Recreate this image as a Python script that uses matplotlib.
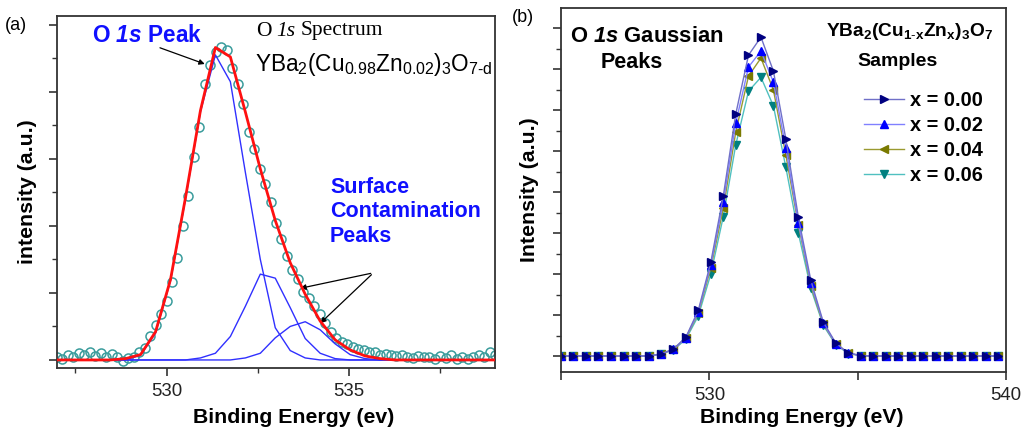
import numpy as np
import matplotlib
matplotlib.use("Agg")
import matplotlib.pyplot as plt
from matplotlib.lines import Line2D

plt.rcParams['font.family'] = ['Liberation Sans', 'DejaVu Sans']
plt.rcParams['mathtext.fontset'] = 'custom'
plt.rcParams['mathtext.rm'] = 'Liberation Sans'
plt.rcParams['mathtext.it'] = 'Liberation Sans:italic'
plt.rcParams['mathtext.bf'] = 'Liberation Sans:bold'
plt.rcParams['mathtext.bfit'] = 'Liberation Sans:italic:bold'
plt.rcParams['mathtext.default'] = 'regular'

# ---- panel (a): measured O 1s spectrum ----
exp_e = [527.00, 527.15, 527.30, 527.45, 527.60, 527.75, 527.90, 528.05, 528.20, 528.35,
         528.50, 528.65, 528.80, 528.95, 529.10, 529.25, 529.40, 529.55, 529.70, 529.85,
         530.00, 530.15, 530.30, 530.45, 530.60, 530.75, 530.90, 531.05, 531.20, 531.35,
         531.50, 531.65, 531.80, 531.95, 532.10, 532.25, 532.40, 532.55, 532.70, 532.85,
         533.00, 533.15, 533.30, 533.45, 533.60, 533.75, 533.90, 534.05, 534.20, 534.35,
         534.50, 534.65, 534.80, 534.95, 535.10, 535.25, 535.40, 535.55, 535.70, 535.85,
         536.00, 536.15, 536.30, 536.45, 536.60, 536.75, 536.90, 537.05, 537.20, 537.35,
         537.50, 537.65, 537.80, 537.95, 538.10, 538.25, 538.40, 538.55, 538.70, 538.85,
         539.00]
exp_i = [0.05, 0.02, 0.08, 0.05, 0.10, 0.07, 0.12, 0.06, 0.10, 0.04,
         0.09, 0.05, -0.02, 0.03, 0.05, 0.12, 0.18, 0.35, 0.52, 0.68,
         0.88, 1.16, 1.52, 2.00, 2.45, 3.02, 3.48, 4.12, 4.40, 4.60,
         4.67, 4.63, 4.36, 4.12, 3.82, 3.40, 3.15, 2.85, 2.62, 2.35,
         2.04, 1.80, 1.55, 1.34, 1.20, 1.02, 0.92, 0.80, 0.68, 0.55,
         0.42, 0.32, 0.27, 0.24, 0.20, 0.17, 0.15, 0.12, 0.12, 0.08,
         0.09, 0.07, 0.06, 0.08, 0.05, 0.03, 0.06, 0.04, 0.05, 0.02,
         0.06, 0.03, 0.07, 0.02, 0.05, 0.01, 0.04, 0.08, 0.05, 0.12,
         0.07]

# fit grid and components
fit_e = [526.83, 527.24, 527.65, 528.06, 528.47, 528.88, 529.29, 529.70, 530.11, 530.52,
         530.93, 531.34, 531.75, 532.16, 532.57, 532.98, 533.39, 533.80, 534.21, 534.62,
         535.03, 535.44, 535.85, 536.26, 536.67, 537.08, 537.49, 537.90, 538.31, 538.72,
         539.13]
fit_sum = [0, 0, 0, 0, 0, 0.02, 0.08, 0.42, 1.20, 2.42,
           3.72, 4.66, 4.52, 3.70, 2.85, 2.08, 1.45, 0.98, 0.58, 0.30,
           0.15, 0.06, 0.02, 0, 0, 0, 0, 0, 0, 0,
           0]
peak_main = [0, 0, 0, 0, 0, 0, 0.07, 0.40, 1.18, 2.40,
             3.70, 4.55, 4.15, 2.80, 1.50, 0.48, 0.14, 0.03, 0, 0,
             0, 0, 0, 0, 0, 0, 0, 0, 0, 0,
             0]
peak_s1 = [0, 0, 0, 0, 0, 0, 0, 0, 0, 0,
           0.03, 0.10, 0.35, 0.80, 1.28, 1.22, 0.78, 0.32, 0.10, 0.02,
           0, 0, 0, 0, 0, 0, 0, 0, 0, 0,
           0]
peak_s2 = [0, 0, 0, 0, 0, 0, 0, 0, 0, 0,
           0, 0, 0, 0.03, 0.10, 0.33, 0.50, 0.57, 0.45, 0.24,
           0.08, 0.02, 0, 0, 0, 0, 0, 0, 0, 0,
           0]

# ---- panel (b): gaussian O 1s peaks ----
gauss_e = [525.00, 525.42, 525.84, 526.26, 526.68, 527.11, 527.53, 527.95, 528.37, 528.79,
           529.21, 529.63, 530.05, 530.47, 530.89, 531.32, 531.74, 532.16, 532.58, 533.00,
           533.42, 533.84, 534.26, 534.68, 535.11, 535.53, 535.95, 536.37, 536.79, 537.21,
           537.63, 538.05, 538.47, 538.89, 539.32, 539.74]
g_x000 = [0, 0, 0, 0, 0, 0, 0, 0, 0.05, 0.17, 0.46, 1.12, 2.29, 3.90, 5.90, 7.34, 7.78, 6.95,
          5.29, 3.39, 1.85, 0.83, 0.32, 0.07, 0.01, 0, 0, 0, 0, 0, 0, 0, 0, 0, 0, 0]
g_x002 = [0, 0, 0, 0, 0, 0, 0, 0, 0.05, 0.16, 0.45, 1.08, 2.22, 3.75, 5.68, 7.05, 7.44, 6.68,
          5.07, 3.25, 1.78, 0.80, 0.30, 0.07, 0.01, 0, 0, 0, 0, 0, 0, 0, 0, 0, 0, 0]
g_x004 = [0, 0, 0, 0, 0, 0, 0, 0, 0.05, 0.16, 0.44, 1.05, 2.15, 3.60, 5.46, 6.83, 7.27, 6.49,
          4.90, 3.20, 1.72, 0.78, 0.30, 0.07, 0.01, 0, 0, 0, 0, 0, 0, 0, 0, 0, 0, 0]
g_x006 = [0, 0, 0, 0, 0, 0, 0, 0, 0.05, 0.15, 0.41, 0.98, 2.00, 3.40, 5.15, 6.46, 6.80, 6.10,
          4.60, 3.00, 1.65, 0.75, 0.28, 0.06, 0.01, 0, 0, 0, 0, 0, 0, 0, 0, 0, 0, 0]
labels_b = ['x = 0.00', 'x = 0.02', 'x = 0.04', 'x = 0.06']

W, H = 1035, 429
fig = plt.figure(figsize=(W / 100, H / 100), dpi=100)
renderer = fig.canvas.get_renderer()

def fx(px):
    return px / W

def fy(py):
    return 1 - py / H

spine_c = '#333333'
blue = '#3030ff'
lab_fs = 15.3
tick_fs = 13.4

# panel a
ax = fig.add_axes([fx(57), fy(368), fx(495 - 57), (368 - 16) / H])
ax.plot(exp_e, exp_i, 'o', mfc='none', mec='#3a9c9c', ms=6.5, mew=1.1, zorder=2)
for comp in (peak_main, peak_s1, peak_s2):
    ax.plot(fit_e, comp, color=blue, lw=1.0, zorder=3)
ax.plot(fit_e, fit_sum, color='#ff1010', lw=2.0, zorder=4)
ax.set_xlim(527, 539)
ax.set_ylim(-0.12, 5.13)
ax.set_xticks([530, 535])
ax.set_xticks([527.5, 532.5, 537.5], minor=True)
ax.set_yticks([0, 1, 2, 3, 4, 5])
ax.set_yticks([0.5, 1.5, 2.5, 3.5, 4.5], minor=True)
ax.set_yticklabels([])
ax.tick_params(which='major', direction='out', length=6, width=1.2, color=spine_c,
               labelsize=tick_fs, labelcolor='#222222', pad=5)
ax.tick_params(which='minor', direction='out', length=3.5, width=1.0, color=spine_c)
ax.set_xlabel('Binding Energy (ev)', fontsize=lab_fs, fontweight='bold')
ax.xaxis.set_label_coords(0.54, -0.115)
ax.set_ylabel('intensity (a.u.)', fontsize=lab_fs, fontweight='bold', labelpad=3.4)
for s in ax.spines.values():
    s.set_color(spine_c)
    s.set_linewidth(1.3)

arrow = dict(arrowstyle='-|>', color='black', lw=0.9, mutation_scale=8)
ax.annotate('', xy=(531.12, 4.40), xytext=(529.75, 4.67), arrowprops=arrow)
ax.annotate('', xy=(533.59, 1.06), xytext=(535.67, 1.30), arrowprops=arrow)
ax.annotate('', xy=(534.16, 0.52), xytext=(535.67, 1.30), arrowprops=arrow)

fig.text(fx(5), fy(25), '(a)', fontsize=13, va='center', ha='left')
fig.text(fx(92), fy(36), r'O $\mathbfit{1s}$ Peak', fontsize=16.3, fontweight='bold',
         color='#1010ff', va='center', ha='left')

# serif title written piece by piece (roman / italic / roman)
x_run = 256
for piece, st in (('O', 'normal'), ('1s', 'italic'), ('Spectrum', 'normal')):
    t = fig.text(fx(x_run), fy(31), piece, fontsize=15.5, family='Liberation Serif',
                 style=st, va='center', ha='left')
    x_run = t.get_window_extent(renderer).x1 + 5

fig.text(fx(255), fy(64), r'YBa$_2$(Cu$_{0.98}$Zn$_{0.02}$)$_3$O$_{7\text{-}d}$',
         fontsize=16.3, va='center', ha='left')
fig.text(fx(330), fy(212), 'Surface\nContamination\nPeaks', fontsize=15.5,
         fontweight='bold', color='#1010ff', va='center', ha='left', linespacing=1.2)

# panel b
bx = fig.add_axes([fx(561), fy(372), fx(1006 - 561), (372 - 8) / H])
styles = [('>', '#000080', '#7070c8'),
          ('^', '#0000ff', '#8080ff'),
          ('<', '#7a7a00', '#9a9a30'),
          ('v', '#008080', '#50c0c0')]
series_b = [g_x000, g_x002, g_x004, g_x006]
handles = []
for vals, lab, (mk, mc, lc) in zip(series_b[::-1], labels_b[::-1], styles[::-1]):
    bx.plot(gauss_e, vals, color=lc, lw=1.0, marker=mk, mfc=mc, mec=mc, ms=5.8)
for lab, (mk, mc, lc) in zip(labels_b, styles):
    handles.append(Line2D([], [], color=lc, lw=1.0, marker=mk, mfc=mc, mec=mc, ms=6,
                          label=lab))
bx.set_xlim(525, 540)
bx.set_ylim(-0.39, 8.49)
bx.set_xticks([525, 530, 535, 540])
bx.set_xticklabels(['', '530', '', '540'])
bx.set_yticks([0, 1, 2, 3, 4, 5, 6, 7, 8])
bx.set_yticks([0.5, 1.5, 2.5, 3.5, 4.5, 5.5, 6.5, 7.5], minor=True)
bx.set_yticklabels([])
bx.tick_params(which='major', direction='out', length=6, width=1.2, color=spine_c,
               labelsize=tick_fs, labelcolor='#222222', pad=5)
bx.tick_params(which='minor', direction='out', length=3.5, width=1.0, color=spine_c)
bx.set_xlabel('Binding Energy (eV)', fontsize=lab_fs, fontweight='bold')
bx.xaxis.set_label_coords(0.54, -0.10)
bx.set_ylabel('Intensity (a.u.)', fontsize=lab_fs, fontweight='bold', labelpad=4.8)
for s in bx.spines.values():
    s.set_color(spine_c)
    s.set_linewidth(1.3)

leg = bx.legend(handles=handles, loc='upper left', bbox_to_anchor=(fx(854), fy(81)),
                bbox_transform=fig.transFigure, frameon=False, handlelength=2.0,
                handletextpad=0.3, labelspacing=0.3, borderpad=0,
                prop={'weight': 'bold', 'size': 14.4})

fig.text(fx(512), fy(18), '(b)', fontsize=13, va='center', ha='left')
fig.text(fx(570), fy(36), r'O $\mathbfit{1s}$ Gaussian', fontsize=15.8, fontweight='bold',
         va='center', ha='left')
fig.text(fx(601), fy(63), 'Peaks', fontsize=15.5, fontweight='bold', va='center', ha='left')
fig.text(fx(826), fy(31), r'YBa$_2$(Cu$_{1\text{-}x}$Zn$_x$)$_3$O$_7$', fontsize=13.8,
         fontweight='bold', va='center', ha='left')
fig.text(fx(857), fy(62), 'Samples', fontsize=14, fontweight='bold', va='center', ha='left')

fig.savefig('out.png', dpi=100)
